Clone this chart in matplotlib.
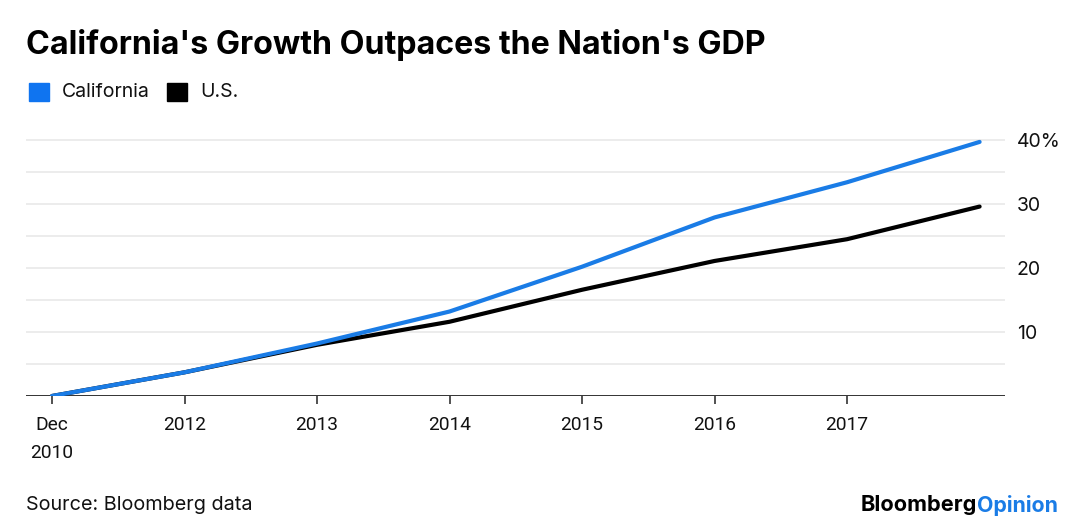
import matplotlib
matplotlib.use("Agg")
import matplotlib.pyplot as plt
from matplotlib.patches import Rectangle

# ---- data ----
x_labels = ["Dec\n2010", "2012", "2013", "2014", "2015", "2016", "2017"]
california = [0.0, 3.7, 8.2, 13.2, 20.2, 27.9, 33.4, 39.7]
us = [0.0, 3.7, 8.0, 11.6, 16.6, 21.1, 24.5, 29.6]
y_ticks = [10, 20, 30, 40]
y_tick_labels = ["10", "20", "30", "40%"]
grid_levels = [5, 10, 15, 20, 25, 30, 35, 40]

BLUE = "#1a7ce6"
LEG_BLUE = "#0f74f0"
plt.rcParams["font.family"] = ["Roboto", "DejaVu Sans"]

W, H = 1080, 529
fig = plt.figure(figsize=(W / 100, H / 100), dpi=100)
renderer = fig.canvas.get_renderer()


def fx(px):
    return px / W


def fy(py):
    return 1 - py / H


def fit(t, target_px):
    w = t.get_window_extent(renderer).width
    t.set_fontsize(t.get_fontsize() * target_px / w)
    return t


ax_left, ax_right = 26, 1005
ax_bottom, ax_top = 396, 127.2
ax = fig.add_axes([fx(ax_left), fy(ax_bottom), fx(ax_right - ax_left), (ax_bottom - ax_top) / H])

xs = list(range(len(california)))
step = 132.5
ax.set_xlim(-(52 - 26) / step, 7 + (1005 - 979.6) / step)
ax.set_ylim(0, 42)

for g in grid_levels:
    ax.axhline(g, color="#ebebeb", lw=1.3, zorder=1)
ax.axhline(0, color="#333333", lw=1.4, zorder=2)

ax.plot(xs, us, color="black", lw=3.0, solid_capstyle="round", solid_joinstyle="round", zorder=3)
ax.plot(xs, california, color=BLUE, lw=3.0, solid_capstyle="round", solid_joinstyle="round", zorder=4)

for s in ax.spines.values():
    s.set_visible(False)

ax.set_xticks(range(len(x_labels)))
ax.set_xticklabels(x_labels, fontsize=13.8, color="#111111", linespacing=1.7)
ax.tick_params(axis="x", length=6, width=1.2, color="#333333", pad=8.5)

ax.yaxis.tick_right()
ax.set_yticks(y_ticks)
ax.set_yticklabels(y_tick_labels, fontsize=14, color="#111111", family=["Inter", "DejaVu Sans"])
ax.tick_params(axis="y", length=0, pad=8.5)

# title
title = fig.text(fx(26), fy(45), "California's Growth Outpaces the Nation's GDP",
                 fontsize=21, fontweight="bold", color="black", va="center", ha="left",
                 family=["Inter", "DejaVu Sans"])
fit(title, 742)

# legend
fig.patches.append(Rectangle((fx(29), fy(101)), fx(20), 18 / H, transform=fig.transFigure,
                             color=LEG_BLUE, figure=fig))
lt1 = fig.text(fx(62), fy(92), "California", fontsize=13, color="#111111", va="center",
               ha="left", family=["Inter", "DejaVu Sans"])
fit(lt1, 88)
fig.patches.append(Rectangle((fx(167), fy(101)), fx(20), 18 / H, transform=fig.transFigure,
                             color="black", figure=fig))
lt2 = fig.text(fx(200), fy(92), "U.S.", fontsize=lt1.get_fontsize(), color="#111111",
               va="center", ha="left", family=["Inter", "DejaVu Sans"])

# footer
src = fig.text(fx(26), fy(505), "Source: Bloomberg data", fontsize=13, color="#111111",
               va="center", ha="left", family=["Inter", "DejaVu Sans"])
fit(src, 226)
t1 = fig.text(fx(1058), fy(505), "Opinion", fontsize=15, fontweight="bold", color=BLUE,
              va="center", ha="right", family=["Inter", "DejaVu Sans"])
fit(t1, 81)
bb = t1.get_window_extent(renderer)
t2 = fig.text(bb.x0 / W, fy(505), "Bloomberg", fontsize=15, fontweight="bold", color="black",
              va="center", ha="right", family=["Inter", "DejaVu Sans"])
fit(t2, 116)

fig.savefig("out.png", dpi=100)
